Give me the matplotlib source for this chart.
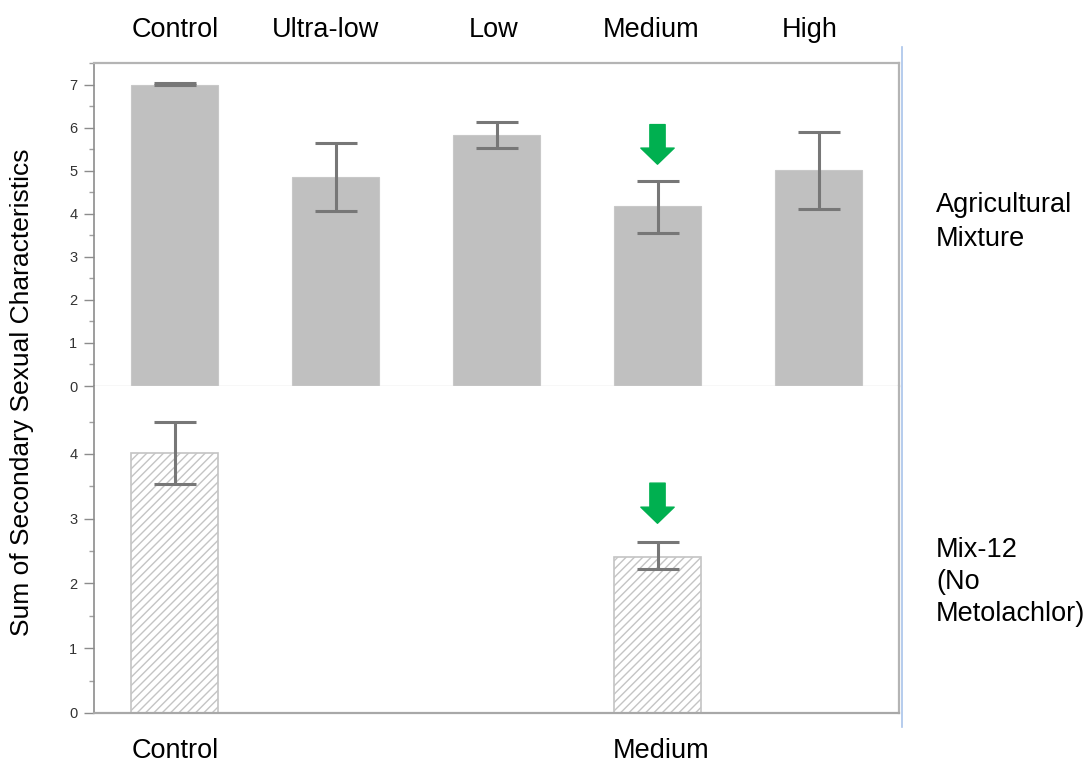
import matplotlib.pyplot as plt
from matplotlib.lines import Line2D

plt.rcParams['font.family'] = ['Liberation Sans', 'DejaVu Sans']
plt.rcParams['hatch.linewidth'] = 1.0

# Agricultural mixture (top panel): mean and error-bar limits
agri_groups = ['Control', 'Ultra-low', 'Low', 'Medium', 'High']
agri_mean = [7.00, 4.85, 5.83, 4.18, 5.01]
agri_low = [7.00, 4.06, 5.52, 3.55, 4.11]
agri_high = [7.03, 5.64, 6.14, 4.76, 5.90]

# Mix-12 without metolachlor (bottom panel), only two groups tested
mix_groups = ['Control', 'Medium']
mix_pos = [0, 3]
mix_mean = [4.02, 2.41]
mix_low = [3.54, 2.22]
mix_high = [4.49, 2.64]

# groups flagged with a green arrow
flag_top = 3
flag_bottom = 3

BAR_GREY = '#c0c0c0'
ERR_GREY = '#777777'
GREEN = '#00b050'
FRAME = '#b4b4b4'
LABEL_SIZE = 19.5


def style_axis(ax, ymax, ticks):
    ax.set_xlim(-0.5, 4.5)
    ax.set_ylim(0, ymax)
    ax.set_xticks([])
    ax.set_yticks(ticks)
    ax.set_yticks([t + 0.5 for t in ticks], minor=True)
    ax.tick_params(axis='y', which='major', length=7, width=1, color='#8c8c8c',
                   labelsize=10.5, labelcolor='#333333', pad=5)
    ax.tick_params(axis='y', which='minor', length=3.5, width=1, color='#a0a0a0')
    ax.spines['left'].set_color('#8c8c8c')
    ax.spines['left'].set_linewidth(1.2)
    for side in ('top', 'right'):
        ax.spines[side].set_color(FRAME)
        ax.spines[side].set_linewidth(1.6)


def error_bars(ax, x, mean, low, high):
    yerr = [[m - lo for m, lo in zip(mean, low)], [hi - m for m, hi in zip(mean, high)]]
    ax.errorbar(x, mean, yerr=yerr, fmt='none', ecolor=ERR_GREY, elinewidth=2.2,
                capsize=15, capthick=2.2, zorder=3)


def flag_arrow(ax, x, y_tip, y_tail):
    ax.annotate('', xy=(x, y_tip), xytext=(x, y_tail),
                arrowprops=dict(arrowstyle='simple,head_length=0.58,head_width=1.2,tail_width=0.55',
                                mutation_scale=20, color=GREEN, shrinkA=0, shrinkB=0))


fig = plt.figure(figsize=(10.89, 7.63), dpi=100)
left, width = 94 / 1089, 805 / 1089
ax_top = fig.add_axes([left, 1 - 386 / 763, width, 323 / 763])
ax_bot = fig.add_axes([left, 1 - 713 / 763, width, 327 / 763])

# top panel: solid grey bars
x_top = list(range(len(agri_groups)))
ax_top.bar(x_top, agri_mean, width=0.535, color=BAR_GREY, edgecolor='#c8c8c8', linewidth=0.8, zorder=2)
error_bars(ax_top, x_top, agri_mean, agri_low, agri_high)
style_axis(ax_top, 7.49, list(range(0, 8)))
ax_top.spines['bottom'].set_color('#d8d8d8')
ax_top.spines['bottom'].set_linewidth(1.0)
flag_arrow(ax_top, flag_top, 5.15, 6.07)

# bottom panel: hatched bars
ax_bot.bar(mix_pos, mix_mean, width=0.535, color='white', edgecolor='#c4c4c4',
           hatch='////', linewidth=1.2, zorder=2)
error_bars(ax_bot, mix_pos, mix_mean, mix_low, mix_high)
style_axis(ax_bot, 5.05, list(range(0, 5)))
ax_bot.spines['top'].set_visible(False)
ax_bot.spines['bottom'].set_color('#a8a8a8')
ax_bot.spines['bottom'].set_linewidth(1.6)
flag_arrow(ax_bot, flag_bottom, 2.93, 3.55)

# group names above and below the panels
top_label_x = [175, 326, 494, 651, 810]
for name, px in zip(agri_groups, top_label_x):
    fig.text(px / 1089, 1 - 30 / 763, name, ha='center', va='center', fontsize=LABEL_SIZE)
bottom_label_x = [175, 661]
for name, px in zip(mix_groups, bottom_label_x):
    fig.text(px / 1089, 1 - 751 / 763, name, ha='center', va='center', fontsize=LABEL_SIZE)

# panel descriptions on the right
fig.text(936 / 1089, 1 - 222 / 763, 'Agricultural\nMixture', ha='left', va='center',
         fontsize=LABEL_SIZE, linespacing=1.38)
fig.text(936 / 1089, 1 - 582 / 763, 'Mix-12\n(No\nMetolachlor)', ha='left', va='center',
         fontsize=LABEL_SIZE, linespacing=1.32)

fig.text(22 / 1089, 1 - 392 / 763, 'Sum of Secondary Sexual Characteristics', rotation=90,
         ha='center', va='center', fontsize=19)

# thin blue border at the right edge of the plot window
fig.add_artist(Line2D([902 / 1089, 902 / 1089], [1 - 47 / 763, 1 - 727 / 763],
                      transform=fig.transFigure, color='#a9c3ea', linewidth=1.2))

fig.savefig('out.png', dpi=100, facecolor='white')
